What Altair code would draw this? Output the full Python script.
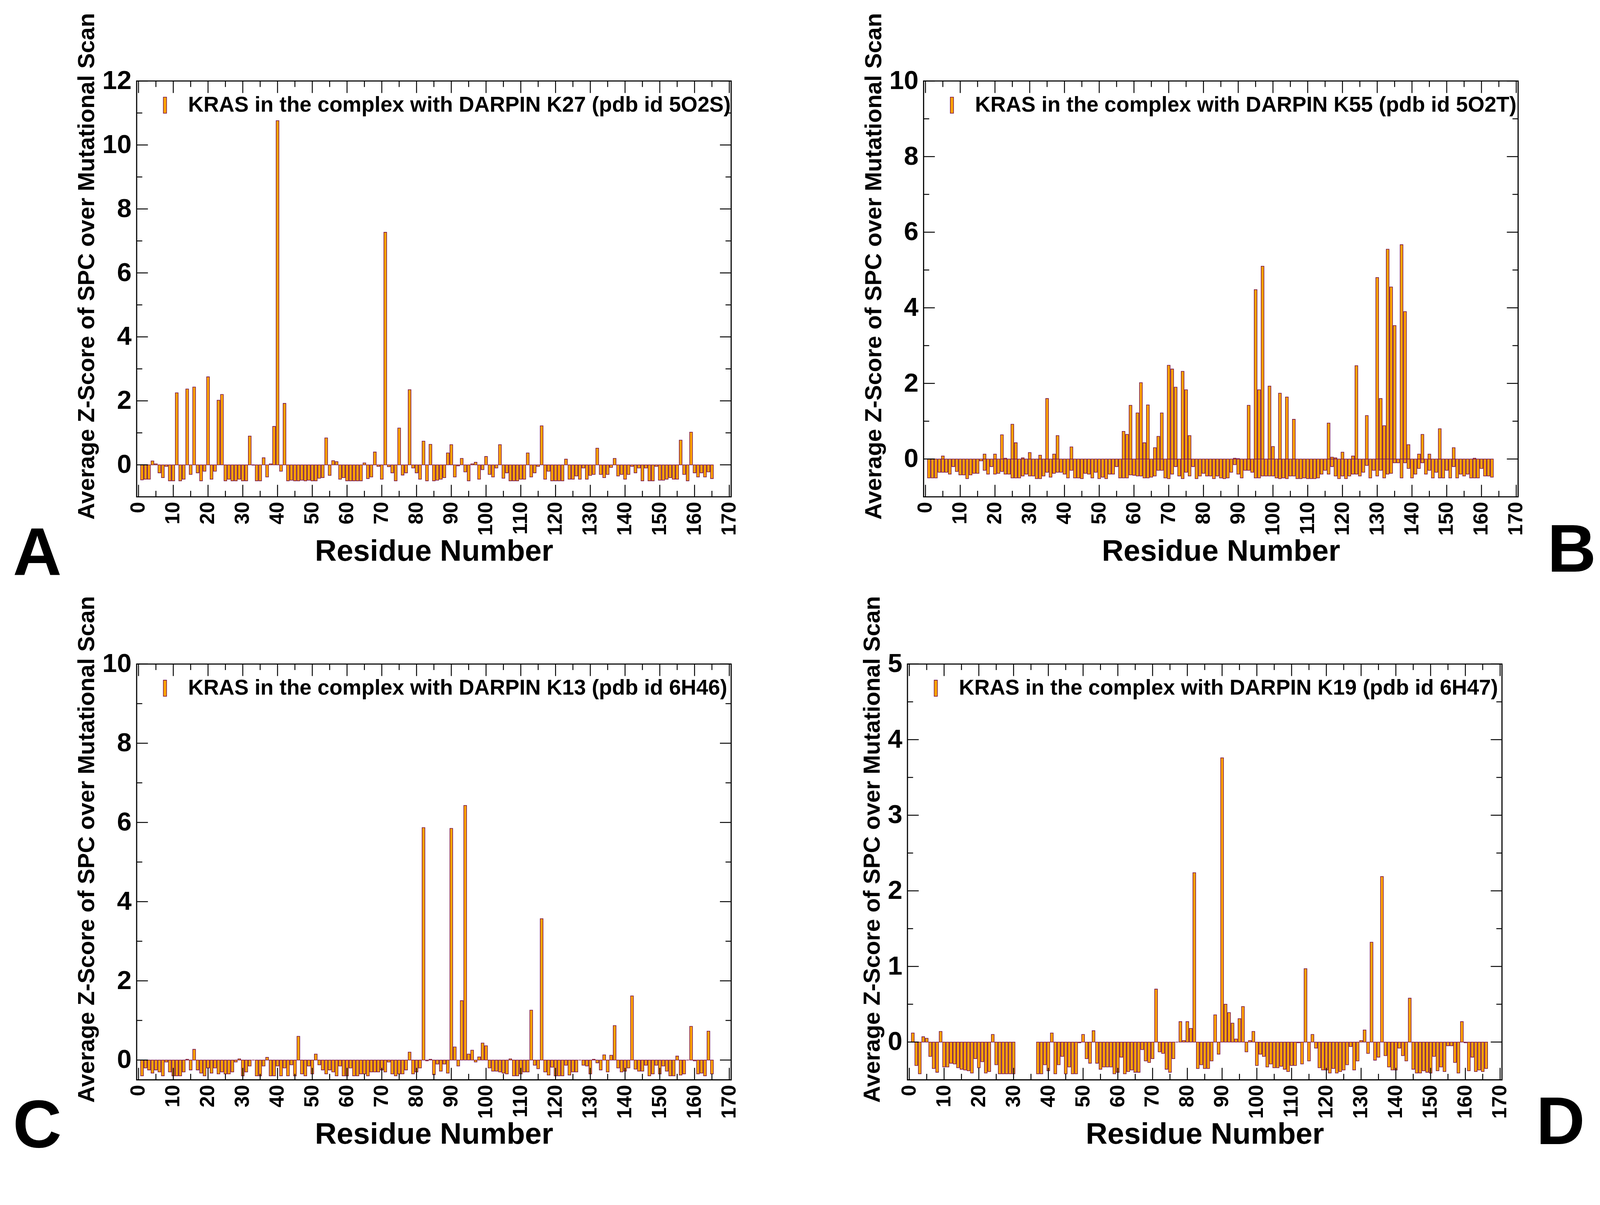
import altair as alt
import pandas as pd

FILL = "#FFA500"
STROKE = "#74104A"
FONT = "Liberation Sans"

X_MAJOR = list(range(0, 171, 10))
X_MINOR = list(range(5, 170, 10))

LEGEND_A = "KRAS in the complex with DARPIN K27 (pdb id 5O2S)"
LEGEND_B = "KRAS in the complex with DARPIN K55 (pdb id 5O2T)"
LEGEND_C = "KRAS in the complex with DARPIN K13 (pdb id 6H46)"
LEGEND_D = "KRAS in the complex with DARPIN K19 (pdb id 6H47)"

# Panel A: residues 1..165
A_VALUES = [
    -0.47, -0.45, -0.45, 0.12, 0.03, -0.25, -0.4, -0.05, -0.5, -0.5,
    2.25, -0.5, -0.45, 2.37, -0.3, 2.43, -0.25, -0.5, -0.2, 2.75,
    -0.45, -0.2, 2.02, 2.2, -0.5, -0.45, -0.5, -0.5, -0.45, -0.5,
    -0.5, 0.9, -0.01, -0.5, -0.5, 0.22, -0.38, 0.03, 1.2, 10.76,
    -0.2, 1.92, -0.5, -0.48, -0.5, -0.5, -0.48, -0.5, -0.48, -0.5,
    -0.5, -0.42, -0.4, 0.84, -0.33, 0.13, 0.1, -0.45, -0.4, -0.5,
    -0.5, -0.5, -0.5, -0.5, 0.06, -0.43, -0.38, 0.4, -0.05, -0.45,
    7.27, -0.06, -0.25, -0.5, 1.15, -0.32, -0.25, 2.35, -0.1, -0.25,
    -0.45, 0.74, -0.5, 0.64, -0.5, -0.48, -0.45, -0.4, 0.37, 0.63,
    -0.38, -0.03, 0.2, -0.22, -0.5, 0.03, 0.08, -0.45, -0.15, 0.26,
    -0.3, -0.38, -0.1, 0.63, -0.42, -0.25, -0.5, -0.5, -0.5, -0.45,
    -0.45, 0.37, -0.38, -0.25, -0.05, 1.22, -0.45, -0.2, -0.5, -0.5,
    -0.5, -0.5, 0.18, -0.45, -0.45, -0.35, -0.45, -0.1, -0.45, -0.33,
    -0.3, 0.52, -0.3, -0.4, -0.3, -0.08, 0.2, -0.35, -0.3, -0.45,
    -0.3, -0.05, -0.25, -0.1, -0.5, -0.1, -0.5, -0.5, -0.05, -0.48,
    -0.48, -0.45, -0.4, -0.45, -0.45, 0.77, -0.3, -0.5, 1.02, -0.25,
    -0.38, -0.25, -0.38, -0.22, -0.43,
]

# Panel B: residues 1..163
B_VALUES = [
    -0.5, -0.5, -0.5, -0.35, 0.08, -0.35, -0.4, -0.2, -0.33, -0.42,
    -0.42, -0.52, -0.42, -0.38, -0.38, -0.05, 0.13, -0.4, -0.2, 0.13,
    -0.38, 0.64, 0.02, -0.4, 0.92, 0.43, -0.5, 0.03, -0.4, 0.17,
    -0.45, -0.52, 0.1, -0.45, 1.6, -0.48, 0.13, 0.62, -0.35, -0.4,
    -0.5, 0.32, -0.5, -0.5, -0.52, -0.38, -0.4, -0.5, -0.35, -0.52,
    -0.48, -0.52, -0.4, -0.4, -0.2, -0.5, 0.73, 0.65, 1.42, -0.43,
    1.22, 2.02, 0.43, 1.43, -0.48, 0.3, 0.6, 1.22, -0.5, 2.48,
    2.38, 1.9, -0.45, 2.32, 1.83, 0.62, -0.2, -0.52, -0.45, -0.38,
    -0.45, -0.45, -0.52, -0.45, -0.5, -0.52, -0.5, -0.35, 0.02, 0.01,
    -0.5, -0.3, 1.42, -0.35, 4.48, 1.83, 5.1, -0.45, 1.93, 0.33,
    -0.5, 1.74, -0.5, 1.64, -0.45, 1.05, -0.52, -0.52, -0.5, -0.52,
    -0.52, -0.52, -0.5, -0.4, -0.3, 0.95, 0.05, 0.03, -0.52, 0.18,
    -0.52, -0.45, 0.08, 2.47, -0.45, -0.35, 1.15, -0.5, -0.3, 4.8,
    1.6, 0.88, 5.55, 4.55, 3.53, -0.1, 5.67, 3.9, 0.38, -0.5,
    -0.4, 0.13, 0.65, -0.4, 0.13, -0.5, -0.35, 0.8, -0.5, -0.3,
    -0.5, 0.3, -0.5, -0.4, -0.45, -0.4, -0.5, 0.02, -0.5, -0.25,
    -0.45, -0.45, -0.48,
]
# Panel B: second (overlapping, negative) bars under the positive ones
B_UNDER_RES = [
    5, 17, 20, 22, 23, 25, 26, 28, 30, 33, 35, 37, 38, 42, 57, 58, 59, 61, 62, 63,
    64, 66, 67, 68, 70, 71, 72, 74, 75, 76, 89, 90, 93, 95, 96, 97, 99, 100, 102, 104,
    106, 116, 117, 118, 120, 123, 124, 127, 130, 131, 132, 133, 134, 135, 137, 138, 139, 142, 143, 145,
    148, 152, 158,
]
B_UNDER_VAL = [
    -0.35, -0.3, -0.4, -0.33, -0.4, -0.5, -0.5, -0.45, -0.45, -0.52,
    -0.35, -0.38, -0.35, -0.3, -0.5, -0.5, -0.42, -0.45, -0.45, -0.5,
    -0.5, -0.45, -0.3, -0.3, -0.52, -0.4, -0.2, -0.52, -0.35, -0.45,
    -0.15, -0.4, -0.3, -0.5, -0.5, -0.45, -0.45, -0.45, -0.52, -0.52,
    -0.45, -0.4, -0.2, -0.45, -0.45, -0.4, -0.4, -0.17, -0.45, -0.3,
    -0.5, -0.4, -0.38, -0.1, -0.5, -0.1, -0.25, -0.25, -0.1, -0.3,
    -0.5, -0.2, -0.5,
]

# Panel C: residues 1..165
C_VALUES = [
    -0.4, -0.2, -0.25, -0.33, -0.25, -0.3, -0.4, -0.05, -0.3, -0.4,
    -0.4, -0.4, -0.3, 0.02, -0.25, 0.27, -0.25, -0.33, -0.4, -0.2,
    -0.33, -0.2, -0.35, -0.3, -0.35, -0.35, -0.3, -0.05, 0.03, -0.4,
    -0.3, -0.15, 0.0, -0.4, -0.4, -0.15, 0.07, -0.4, -0.4, -0.15,
    -0.4, -0.2, -0.4, -0.12, -0.4, 0.6, -0.35, -0.4, -0.15, -0.35,
    0.15, -0.12, -0.25, -0.35, -0.25, -0.3, -0.4, -0.15, -0.4, -0.4,
    -0.2, -0.4, -0.4, -0.35, -0.35, -0.4, -0.3, -0.3, -0.3, -0.25,
    -0.3, -0.05, -0.35, -0.4, -0.35, -0.35, -0.25, 0.2, -0.35, -0.3,
    -0.2, 5.87, -0.02, 0.02, -0.37, -0.1, -0.28, -0.1, -0.33, 5.85,
    0.33, -0.15, 1.5, 6.43, 0.15, 0.25, -0.05, 0.08, 0.43, 0.36,
    -0.2, -0.28, -0.28, -0.3, -0.33, -0.35, 0.03, -0.4, -0.4, -0.35,
    -0.3, -0.3, 1.26, -0.13, -0.22, 3.57, -0.3, -0.38, -0.18, -0.4,
    -0.4, -0.4, -0.13, -0.38, -0.3, -0.3, 0.0, -0.13, -0.15, -0.35,
    0.02, -0.07, -0.25, 0.13, -0.3, 0.12, 0.87, -0.2, -0.3, -0.28,
    -0.2, 1.62, -0.23, -0.28, -0.28, -0.13, -0.4, -0.35, -0.13, -0.35,
    -0.15, -0.28, -0.4, -0.4, 0.1, -0.38, -0.35, 0.0, 0.85, -0.02,
    -0.35, -0.33, -0.4, 0.73, -0.35,
]

# Panel D: residues 1..166 (None = residue with no value)
D_VALUES = [
    0.12, -0.31, -0.42, 0.07, 0.05, -0.19, -0.35, -0.4, 0.14, -0.33,
    -0.33, -0.28, -0.29, -0.34, -0.36, -0.37, -0.38, -0.41, -0.22, -0.34,
    -0.26, -0.41, -0.39, 0.1, -0.3, -0.42, -0.42, -0.42, -0.42, -0.42,
    None, None, None, None, None, None, -0.42, -0.42, -0.3, -0.38,
    0.12, -0.42, -0.3, -0.19, -0.42, -0.33, -0.42, -0.42, -0.01, 0.1,
    -0.22, -0.28, 0.15, -0.28, -0.36, -0.33, -0.33, -0.33, -0.42, -0.4,
    -0.2, -0.42, -0.39, -0.37, -0.4, -0.4, -0.1, -0.25, -0.27, -0.22,
    0.7, -0.13, -0.15, -0.36, -0.4, -0.22, 0.0, 0.27, 0.02, 0.27,
    0.18, 2.24, -0.35, -0.3, -0.35, -0.35, -0.25, 0.36, -0.16, 3.76,
    0.5, 0.39, 0.25, 0.04, 0.31, 0.47, -0.13, 0.02, 0.14, -0.31,
    -0.16, -0.19, -0.33, -0.29, -0.34, -0.34, -0.32, -0.36, -0.39, -0.31,
    -0.31, -0.01, -0.29, 0.97, -0.25, 0.1, -0.08, -0.34, -0.37, -0.37,
    -0.41, -0.35, -0.41, -0.39, -0.37, -0.3, -0.06, -0.37, -0.25, 0.02,
    0.16, -0.15, 1.32, -0.24, -0.2, 2.19, -0.18, -0.33, -0.37, -0.37,
    -0.08, -0.18, -0.25, 0.58, -0.36, -0.41, -0.41, -0.38, -0.4, -0.41,
    -0.19, -0.38, -0.33, -0.39, -0.05, -0.05, -0.27, -0.41, 0.27, -0.01,
    -0.38, -0.2, -0.39, -0.37, -0.39, -0.35,
]

W, H = 1585, 1109
YTITLE = "Average Z-Score of SPC over Mutational Scan"


def frame(values, label):
    rows = [(i + 1, v) for i, v in enumerate(values) if v is not None]
    return pd.DataFrame({"residue": [r for r, _ in rows],
                         "value": [v for _, v in rows],
                         "series": [label] * len(rows)})


def panel(df, label, ydom, ymajor, yminor, letter, lx, ly, under=None):
    xs = alt.Scale(domain=[0, 170], nice=False, zero=False)
    ys = alt.Scale(domain=ydom, nice=False, zero=False)
    legend = alt.Legend(
        orient="none", legendX=47, legendY=36, title=None, padding=0,
        symbolType="M-0.2,-1L0.2,-1L0.2,1L-0.2,1Z", symbolSize=1849,
        symbolStrokeColor=STROKE, symbolStrokeWidth=1.6, symbolFillColor=FILL,
        symbolOpacity=1,
        labelFont=FONT, labelFontWeight="bold", labelFontSize=57,
        labelColor="black", labelOffset=33, labelLimit=3000,
    )
    xaxis = alt.Axis(values=X_MAJOR, labelAngle=270, labelFont=FONT,
                     labelFontWeight="bold", labelFontSize=54, labelColor="black",
                     labelPadding=13, labelFlush=False, labelOverlap=False,
                     ticks=False, domain=False, grid=False,
                     title="Residue Number", titleFont=FONT, titleFontWeight="bold",
                     titleFontSize=80, titleColor="black", titlePadding=4)
    yaxis = alt.Axis(values=ymajor, labelFont=FONT, labelFontWeight="bold",
                     labelFontSize=70, labelColor="black", labelPadding=14,
                     labelFlush=False, labelOverlap=False, ticks=False,
                     domain=False, grid=False, title=YTITLE, titleFont=FONT,
                     titleFontWeight="bold", titleFontSize=62, titleColor="black",
                     titlePadding=9, titleY=494)
    X = lambda f: alt.X(f, scale=xs, axis=xaxis)
    Y = lambda f: alt.Y(f, scale=ys, axis=yaxis)
    layers = []
    if under is not None:
        layers.append(
            alt.Chart(under).mark_bar(orient="vertical", size=7.4, stroke=STROKE,
                                      strokeWidth=1.6, fill=FILL).encode(
                x=X("residue:Q"), y=Y("value:Q"), y2=alt.datum(0))
        )
    layers.append(
        alt.Chart(df).mark_bar(orient="vertical", size=7.4, stroke=STROKE,
                               strokeWidth=1.6).encode(
            x=X("residue:Q"), y=Y("value:Q"), y2=alt.datum(0),
            color=alt.Color("series:N", scale=alt.Scale(range=[FILL]), legend=legend),
        )
    )
    # inward ticks on all four sides
    ymaj = pd.DataFrame({"value": ymajor})
    ymin = pd.DataFrame({"value": yminor})
    xmaj = pd.DataFrame({"residue": X_MAJOR})
    xmin = pd.DataFrame({"residue": X_MINOR})
    tk = dict(color="black", strokeWidth=2.5)
    for d, ln in ((ymaj, 30), (ymin, 15)):
        layers.append(alt.Chart(d).mark_rule(**tk).encode(
            y=Y("value:Q"), x=alt.value(0), x2=alt.value(ln)))
        layers.append(alt.Chart(d).mark_rule(**tk).encode(
            y=Y("value:Q"), x=alt.value(W - ln), x2=alt.value(W)))
    for d, ln in ((xmaj, 32), (xmin, 16)):
        layers.append(alt.Chart(d).mark_rule(**tk).encode(
            x=X("residue:Q"), y=alt.value(H), y2=alt.value(H - ln)))
        layers.append(alt.Chart(d).mark_rule(**tk).encode(
            x=X("residue:Q"), y=alt.value(0), y2=alt.value(ln)))
    layers.append(
        alt.Chart(pd.DataFrame({"t": [letter]})).mark_text(
            font=FONT, fontWeight="bold", fontSize=180, align="left",
            baseline="alphabetic", color="black").encode(
            x=alt.value(lx), y=alt.value(ly), text="t:N")
    )
    return alt.layer(*layers).properties(width=W, height=H)


dfA = frame(A_VALUES, LEGEND_A)
dfB = frame(B_VALUES, LEGEND_B)
dfB2 = pd.DataFrame({"residue": B_UNDER_RES, "value": B_UNDER_VAL})
dfC = frame(C_VALUES, LEGEND_C)
dfD = frame(D_VALUES, LEGEND_D)

pA = panel(dfA, LEGEND_A, [-1, 12], list(range(0, 13, 2)), [1, 3, 5, 7, 9, 11], "A", -330, 1317)
pB = panel(dfB, LEGEND_B, [-1, 10], list(range(0, 11, 2)), [1, 3, 5, 7, 9], "B", 1663, 1309, under=dfB2)
pC = panel(dfC, LEGEND_C, [-0.5, 10], list(range(0, 11, 2)), [1, 3, 5, 7, 9], "C", -330, 1289)
pD = panel(dfD, LEGEND_D, [-0.5, 5], [0, 1, 2, 3, 4, 5], [0.5, 1.5, 2.5, 3.5, 4.5], "D", 1676, 1280)

row1 = alt.hconcat(pA, pB, spacing=323).resolve_scale(color="independent", x="independent", y="independent")
row2 = alt.hconcat(pC, pD, spacing=319).resolve_scale(color="independent", x="independent", y="independent")

chart = alt.vconcat(row1, row2, spacing=16).resolve_scale(
    color="independent", x="independent", y="independent"
).properties(
    padding={"left": 24, "top": -39, "right": 0, "bottom": 0}
).configure(background="white").configure_view(stroke="black", strokeWidth=3)

chart.save("out.html", embed_options={"renderer": "svg", "actions": False})
